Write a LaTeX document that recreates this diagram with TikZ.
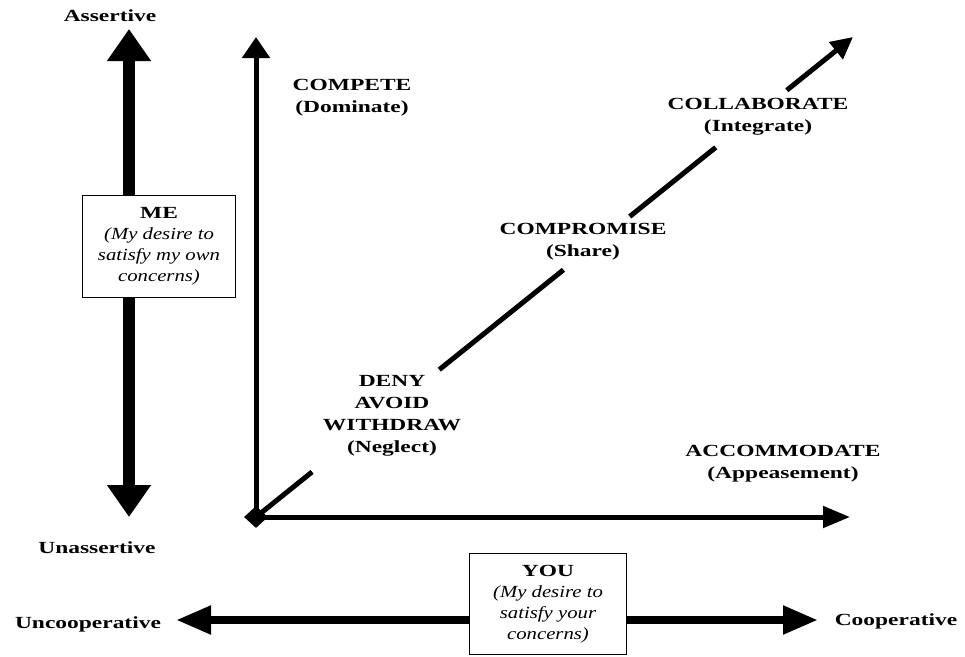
\documentclass[tikz,border=0pt]{standalone}
\usepackage{fontspec}
\setmainfont{Liberation Serif}
\newfontfamily\labfont[FakeStretch=1.38]{Liberation Serif}
\newfontfamily\boxfont[FakeStretch=1.22]{Liberation Serif}
\usetikzlibrary{arrows.meta,shapes.geometric,calc}
\tikzset{
  lab/.style={font=\labfont\bfseries\fontsize{17}{22}\selectfont, align=center, inner sep=0pt},
  txtbox/.style={draw, line width=1pt, fill=white, align=center, inner sep=2pt,
    font=\boxfont\itshape\fontsize{17}{21}\selectfont},
  bigarrow/.style={line width=12pt, {Triangle[width=42pt,length=32pt]}-{Triangle[width=42pt,length=32pt]}},
  botarrow/.style={line width=8pt, {Triangle[width=27pt,length=35pt]}-{Triangle[width=27pt,length=35pt]}},
  axis/.style={line width=5pt},
  vaxtip/.style={-{Triangle[width=27pt,length=21pt]}},
  haxtip/.style={-{Triangle[width=21pt,length=27pt]}},
  diagtip/.style={-{Triangle[width=21pt,length=22pt]}},
}
\begin{document}
\begin{tikzpicture}[x=1pt,y=-1pt]
\useasboundingbox (0,0) rectangle (965,656);
% left assertive arrow
\coordinate (atop) at (129,29);
\coordinate (abot) at (129,517);
\draw[bigarrow] (atop) -- (abot);
\node[lab] (assertive) at (110,16) {Assertive};
\node[lab] (unassertive) at (97,548) {Unassertive};
\node[txtbox, minimum width=153pt, minimum height=102pt] (me) at (159,246)
  {{\labfont\upshape\bfseries ME}\\(My desire to\\satisfy my own\\concerns)};
% axes
\coordinate (o) at (256,517);
\coordinate (vtip) at (256,37);
\coordinate (htip) at (850,517);
\coordinate (dtip) at (853,37);
\draw[axis, vaxtip] (o) -- (vtip);
\draw[axis, haxtip] (o) -- (htip);
\draw[axis] (o) -- ($(o)!0.094!(dtip)$);
\draw[axis] ($(o)!0.307!(dtip)$) -- ($(o)!0.515!(dtip)$);
\draw[axis] ($(o)!0.626!(dtip)$) -- ($(o)!0.77!(dtip)$);
\draw[axis, diagtip] ($(o)!0.889!(dtip)$) -- (dtip);
\node[diamond, fill=black, minimum width=24pt, minimum height=22pt, inner sep=0pt] (origin) at (o) {};
% labels
\node[lab] (compete) at (352,98) {COMPETE\\(Dominate)};
\node[lab] (collab) at (758,117) {COLLABORATE\\(Integrate)};
\node[lab] (compro) at (583,242) {COMPROMISE\\(Share)};
\node[lab] (deny) at (392,416) {DENY\\AVOID\\WITHDRAW\\(Neglect)};
\node[lab] (accom) at (783,464) {ACCOMMODATE\\(Appeasement)};
% bottom arrow
\coordinate (ltip) at (176,620);
\coordinate (rtip) at (818,620);
\draw[botarrow] (ltip) -- (rtip);
\node[lab] (uncoop) at (88,624) {Uncooperative};
\node[lab] (coop) at (896,621) {Cooperative};
\node[txtbox, minimum width=157pt, minimum height=101pt] (you) at (548,604)
  {{\labfont\upshape\bfseries YOU}\\(My desire to\\satisfy your\\concerns)};
\end{tikzpicture}
\end{document}
